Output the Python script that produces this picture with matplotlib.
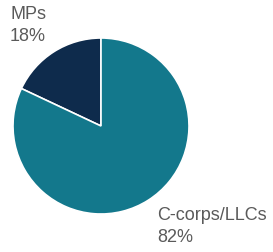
import matplotlib
matplotlib.use("Agg")
import matplotlib.pyplot as plt

labels = ["MPs", "C-corps/LLCs"]
shares = [18, 82]
colors = ["#0e2b4c", "#13788c"]

W, H = 273, 252
fig = plt.figure(figsize=(W / 100, H / 100), dpi=100)
plt.rcParams["font.family"] = ["Liberation Sans", "DejaVu Sans"]

# pie axes: center ~(101,126) px, radius ~88 px
cx, cy, r = 101, 126, 88
ax = fig.add_axes([(cx - r) / W, (H - cy - r) / H, 2 * r / W, 2 * r / H])
ax.pie(shares, colors=colors, startangle=90, counterclock=True,
       wedgeprops=dict(edgecolor="white", linewidth=1.2))
ax.set_xlim(-1, 1)
ax.set_ylim(-1, 1)
ax.set_aspect("equal")
ax.axis("off")

txt = dict(fontsize=13, color="#5a5a5a", va="top", ha="left", linespacing=1.4)
fig.text(10 / W, 1 - 6 / H, f"{labels[0]}\n{shares[0]}%", **txt)
fig.text(157 / W, 1 - 207 / H, f"{labels[1]}\n{shares[1]}%", **txt)

fig.savefig("out.png", dpi=100)
